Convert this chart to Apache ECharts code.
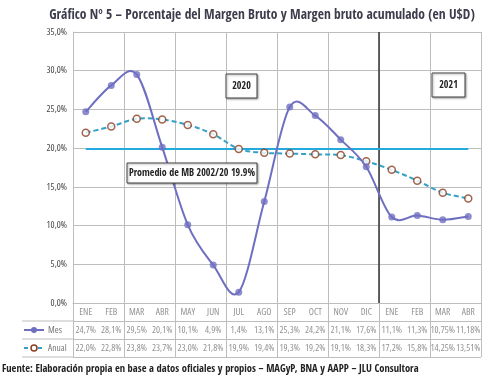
<!DOCTYPE html>
<html><head><meta charset="utf-8">
<script src="https://cdn.jsdelivr.net/npm/echarts@6/dist/echarts.min.js"></script>
<style>html,body{margin:0;padding:0;background:#fff}#c{width:500px;height:381px}</style>
</head><body><div id="c"></div>
<script>
const months = ['ENE','FEB','MAR','ABR','MAY','JUN','JUL','AGO','SEP','OCT','NOV','DIC','ENE','FEB','MAR','ABR'];
const mes = [24.7,28.1,29.5,20.1,10.1,4.9,1.4,13.1,25.3,24.2,21.1,17.6,11.1,11.3,10.75,11.18];
const anual = [22.0,22.8,23.8,23.7,23.0,21.8,19.9,19.4,19.3,19.2,19.1,18.3,17.2,15.8,14.25,13.51];
const promedioMB = 19.9;
const yearDivider = 12; // boundary between DIC and ENE

const COND = '"Open Sans Condensed","Roboto Condensed",sans-serif';
const fmt = v => (Number.isInteger(Math.round(v*100)/10) ? v.toFixed(1) : v.toFixed(2)).replace('.',',') + '%';
const MES_C = '#6f6fc2', AN_C = '#34a0c6', AN_B = '#8a3f22', AVG_C = '#22aadd', GRID_C = '#bdbdbd', TXT = '#767676';

// Excel-like smoothed curve through the points, positioned by the chart's own axes
function smoothPath(api, vals) {
  const p = vals.map((v, i) => api.coord([i, v]));
  const n = p.length;
  let d = 'M' + p[0][0] + ',' + p[0][1];
  for (let i = 0; i < n - 1; i++) {
    const p0 = p[Math.max(i - 1, 0)], p1 = p[i], p2 = p[i + 1], p3 = p[Math.min(i + 2, n - 1)];
    const c1 = [p1[0] + (p2[0] - p0[0]) / 6, p1[1] + (p2[1] - p0[1]) / 6];
    const c2 = [p2[0] - (p3[0] - p1[0]) / 6, p2[1] - (p3[1] - p1[1]) / 6];
    d += ' C' + c1[0] + ',' + c1[1] + ' ' + c2[0] + ',' + c2[1] + ' ' + p2[0] + ',' + p2[1];
  }
  return d;
}
const curve = (vals, style, z) => ({
  type: 'custom', coordinateSystem: 'cartesian2d', xAxisIndex: 0, yAxisIndex: 0, silent: true, clip: false, z: z,
  data: [[0, vals[0]]],
  renderItem: (params, api) => ({type: 'path', shape: {pathData: smoothPath(api, vals)}, style: Object.assign({fill: 'none'}, style)})
});

const chart = echarts.init(document.getElementById('c'));
const tableSeries = (rowY, labels) => ({
  type: 'scatter', xAxisIndex: 2, yAxisIndex: 1, symbolSize: 0, silent: true,
  data: labels.map((l, i) => ({value: [i, rowY], label: {formatter: l}})),
  label: {show: true, position: 'inside', fontFamily: '"Open Sans"', fontStyle: 'condensed', fontSize: 9.5, color: TXT}
});
const boxStyle = {fill: '#fff', stroke: '#444', lineWidth: 1, shadowBlur: 2, shadowColor: 'rgba(0,0,0,0.35)', shadowOffsetX: 1, shadowOffsetY: 1};
chart.setOption({
  animation: false,
  grid: [
    {left: 73, top: 32, width: 408, height: 271},
    {left: 73, top: 303, width: 408, height: 54}
  ],
  xAxis: [
    {type: 'category', gridIndex: 0, data: months, boundaryGap: true,
      axisLabel: {show: false}, axisTick: {show: false},
      axisLine: {lineStyle: {color: GRID_C}},
      splitLine: {show: true, lineStyle: {color: GRID_C, width: 1}}},
    {type: 'value', gridIndex: 0, min: 0, max: months.length, show: false},
    {type: 'category', gridIndex: 1, data: months, boundaryGap: true,
      axisLabel: {show: false}, axisTick: {show: false}, axisLine: {show: false},
      splitLine: {show: true, lineStyle: {color: GRID_C}}}
  ],
  yAxis: [
    {type: 'value', gridIndex: 0, min: 0, max: 35, interval: 5,
      axisLabel: {formatter: v => v.toFixed(1).replace('.',',') + '%', fontFamily: '"Open Sans"', fontStyle: 'condensed', fontSize: 9.5, color: '#444', margin: 6},
      axisLine: {show: true, lineStyle: {color: GRID_C}}, axisTick: {show: false},
      splitLine: {lineStyle: {color: GRID_C}}},
    {type: 'value', gridIndex: 1, min: 0, max: 3, interval: 1, inverse: true,
      axisLabel: {show: false}, axisTick: {show: false}, axisLine: {show: true, lineStyle: {color: GRID_C}},
      splitLine: {show: true, lineStyle: {color: GRID_C}}}
  ],
  series: [
    {type: 'line', name: 'Promedio', xAxisIndex: 0, yAxisIndex: 0, data: months.map(() => promedioMB),
      symbol: 'none', lineStyle: {color: AVG_C, width: 2}, z: 2},
    {type: 'line', name: 'Divisor', xAxisIndex: 1, yAxisIndex: 0, data: [[yearDivider, 0], [yearDivider, 35]],
      symbol: 'none', lineStyle: {color: '#333', width: 1.5}, z: 1},
    curve(anual, {stroke: AN_C, lineWidth: 2, lineDash: [5, 3]}, 3),
    {type: 'scatter', name: 'Anual', xAxisIndex: 0, yAxisIndex: 0, data: anual,
      symbol: 'circle', symbolSize: 7, itemStyle: {color: '#fff', borderColor: AN_B, borderWidth: 1.5}, z: 4},
    curve(mes, {stroke: MES_C, lineWidth: 2}, 5),
    {type: 'scatter', name: 'Mes', xAxisIndex: 0, yAxisIndex: 0, data: mes,
      symbol: 'circle', symbolSize: 7, itemStyle: {color: MES_C}, z: 6},
    tableSeries(0.5, months),
    tableSeries(1.5, mes.map(fmt)),
    tableSeries(2.5, anual.map(fmt))
  ],
  graphic: [
    {type: 'text', x: 262, y: 15, style: {text: 'Gráfico Nº 5 – Porcentaje del Margen Bruto y Margen bruto acumulado (en U$D)', font: 'bold 13.5px ' + COND, fill: '#3c3c4c', align: 'center', verticalAlign: 'middle'}},
    // legend column of data table
    {type: 'line', shape: {x1: 22, y1: 321, x2: 73, y2: 321}, style: {stroke: GRID_C}},
    {type: 'line', shape: {x1: 22, y1: 339, x2: 73, y2: 339}, style: {stroke: GRID_C}},
    {type: 'line', shape: {x1: 22, y1: 357, x2: 73, y2: 357}, style: {stroke: GRID_C}},
    {type: 'line', shape: {x1: 24, y1: 330, x2: 44, y2: 330}, style: {stroke: MES_C, lineWidth: 2}},
    {type: 'circle', shape: {cx: 34, cy: 330, r: 3}, style: {fill: MES_C}},
    {type: 'text', x: 48, y: 330, style: {text: 'Mes', font: 'condensed 9.5px "Open Sans"', fill: TXT, verticalAlign: 'middle'}},
    {type: 'line', shape: {x1: 24, y1: 348, x2: 44, y2: 348}, style: {stroke: AN_C, lineWidth: 2, lineDash: [4, 3]}},
    {type: 'circle', shape: {cx: 34, cy: 348, r: 3}, style: {fill: '#fff', stroke: AN_B, lineWidth: 1.5}},
    {type: 'text', x: 48, y: 348, style: {text: 'Anual', font: 'condensed 9.5px "Open Sans"', fill: TXT, verticalAlign: 'middle'}},
    // annotation boxes
    {type: 'rect', shape: {x: 226, y: 74, width: 31, height: 24}, style: boxStyle, z: 10},
    {type: 'text', x: 241.5, y: 86, style: {text: '2020', font: 'bold 10px ' + COND, fill: '#222', align: 'center', verticalAlign: 'middle'}, z: 11},
    {type: 'rect', shape: {x: 432, y: 73, width: 33, height: 24}, style: boxStyle, z: 10},
    {type: 'text', x: 448.5, y: 85, style: {text: '2021', font: 'bold 10px ' + COND, fill: '#222', align: 'center', verticalAlign: 'middle'}, z: 11},
    {type: 'rect', shape: {x: 127, y: 163, width: 130, height: 20}, style: boxStyle, z: 10},
    {type: 'text', x: 192, y: 173, style: {text: 'Promedio de MB 2002/20 19.9%', font: 'bold 10px ' + COND, fill: '#222', align: 'center', verticalAlign: 'middle'}, z: 11},
    // source footnote
    {type: 'text', x: 2, y: 369, style: {text: 'Fuente: Elaboración propia en base a datos oficiales y propios – MAGyP, BNA y AAPP – JLU Consultora', font: 'bold 10.5px ' + COND, fill: '#222', verticalAlign: 'middle'}}
  ]
});
</script></body></html>
